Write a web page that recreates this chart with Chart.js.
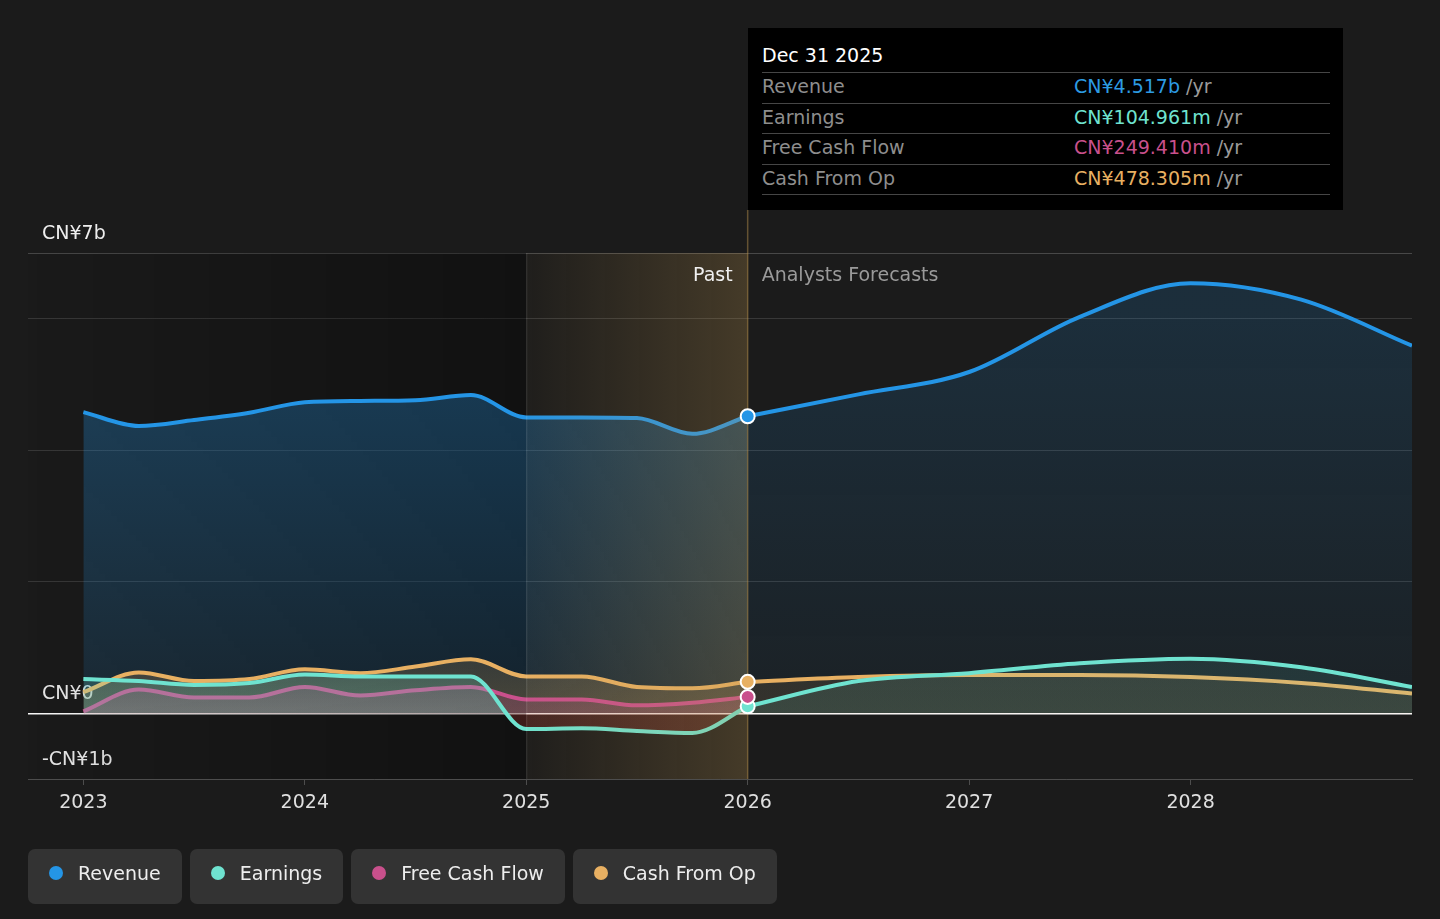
<!DOCTYPE html>
<html>
<head>
<meta charset="utf-8">
<script src="https://cdn.jsdelivr.net/npm/chart.js@4.4.1/dist/chart.umd.min.js"></script>
<style>
  body { margin: 0; background: #1b1b1b; font-family: "DejaVu Sans", sans-serif; }
  #wrap { position: relative; width: 1440px; height: 919px; overflow: hidden; }
  #chart { position: absolute; left: 0; top: 0; }
  #tip { position: absolute; left: 748px; top: 28px; width: 595px; height: 182px; background: #000; }
  #tip .title { position: absolute; left: 14px; top: 15px; line-height: 24px; font-size: 19px; color: #fff; }
  #tip .rows { position: absolute; left: 14px; top: 44px; width: 568px; }
  #tip .row { position: relative; height: 29.6px; line-height: 27px; border-top: 1px solid #464646; font-size: 19px; color: #8e8e8e; }
  #tip .row:last-child { border-bottom: 1px solid #464646; }
  #tip .row .val { position: absolute; left: 312px; top: 0; }
  #tip .row .unit { color: #9a9a9a; }
  #legend { position: absolute; left: 28px; top: 849px; display: flex; gap: 8px; }
  .pill { box-sizing: border-box; height: 55px; padding: 0 21px 7px 21px; background: #333; border-radius: 7px; display: flex; align-items: center; font-size: 19px; color: #eee; }
  .dot { width: 14px; height: 14px; border-radius: 50%; margin-right: 15px; }
</style>
</head>
<body>
<div id="wrap">
  <canvas id="chart" width="1440" height="919"></canvas>
  <div id="tip">
    <div class="title">Dec 31 2025</div>
    <div class="rows">
      <div class="row">Revenue<span class="val"><span style="color:#2d9be3">CN¥4.517b</span> <span class="unit">/yr</span></span></div>
      <div class="row">Earnings<span class="val"><span style="color:#6fe3d0">CN¥104.961m</span> <span class="unit">/yr</span></span></div>
      <div class="row">Free Cash Flow<span class="val"><span style="color:#c9508c">CN¥249.410m</span> <span class="unit">/yr</span></span></div>
      <div class="row">Cash From Op<span class="val"><span style="color:#e8b062">CN¥478.305m</span> <span class="unit">/yr</span></span></div>
    </div>
  </div>
  <div id="legend"></div>
</div>
<script>
// values in CN¥ billions
const pastDates = [2023, 2023.25, 2023.5, 2023.75, 2024, 2024.25, 2024.5, 2024.75, 2025, 2025.25, 2025.5, 2025.75, 2026];
const revenuePast = [4.58, 4.37, 4.46, 4.57, 4.73, 4.75, 4.76, 4.84, 4.50, 4.50, 4.49, 4.25, 4.517];
const earningsPast = [0.52, 0.49, 0.43, 0.46, 0.59, 0.56, 0.56, 0.56, -0.24, -0.23, -0.27, -0.30, 0.105];
const fcfPast = [0.03, 0.36, 0.24, 0.24, 0.40, 0.27, 0.35, 0.40, 0.21, 0.21, 0.12, 0.16, 0.249];
const cfoPast = [0.32, 0.62, 0.49, 0.52, 0.67, 0.61, 0.71, 0.82, 0.56, 0.56, 0.40, 0.38, 0.478];

const forecastDates = [2026, 2026.5, 2027, 2027.5, 2028, 2028.5, 2029];
const revenueForecast = [4.517, 4.85, 5.19, 6.03, 6.54, 6.29, 5.59];
const earningsForecast = [0.105, 0.49, 0.61, 0.76, 0.83, 0.70, 0.40];
const cfoForecast = [0.478, 0.55, 0.58, 0.58, 0.55, 0.46, 0.30];

const yearTicks = [2023, 2024, 2025, 2026, 2027, 2028];
const valueTicks = [-1, 0, 2, 4, 6, 7];
const valueTickLabels = { 7: 'CN¥7b', 0: 'CN¥0', '-1': '-CN¥1b' };

const highlightStart = 2025;
const pastEnd = pastDates[pastDates.length - 1];

const colors = {
  revenue: '#2495e6',
  earnings: '#6fe3d0',
  fcf: '#c9508c',
  cfo: '#e8b062'
};
const rgb = {
  revenue: '36,149,230',
  earnings: '111,227,208',
  fcf: '201,80,140',
  cfo: '232,176,98',
  negative: '220,70,60'
};

function pts(xs, ys) {
  return xs.map((x, i) => ({ x: x, y: ys[i] }));
}

// vertical gradient between two y values
function vFill(c, v0, a0, v1, a1) {
  return function (ctx) {
    const chart = ctx.chart;
    if (!chart.chartArea) return 'transparent';
    const y = chart.scales.y;
    const g = chart.ctx.createLinearGradient(0, y.getPixelForValue(v0), 0, y.getPixelForValue(v1));
    g.addColorStop(0, 'rgba(' + c + ',' + a0 + ')');
    g.addColorStop(1, 'rgba(' + c + ',' + a1 + ')');
    return g;
  };
}

function line(data, color, fill) {
  return {
    data: data,
    borderColor: color,
    borderWidth: 4,
    pointRadius: 0,
    cubicInterpolationMode: 'monotone',
    fill: fill
  };
}

const markerSeries = [
  { v: earningsPast, c: colors.earnings },
  { v: fcfPast, c: colors.fcf },
  { v: cfoPast, c: colors.cfo },
  { v: revenuePast, c: colors.revenue }
];

const periodBands = {
  id: 'periodBands',
  beforeDatasetsDraw(chart) {
    const { ctx, chartArea: a, scales: { x } } = chart;
    const xh = x.getPixelForValue(highlightStart);
    ctx.save();
    const g = ctx.createLinearGradient(a.left, 0, xh, 0);
    g.addColorStop(0, 'rgba(0,0,0,0.03)');
    g.addColorStop(1, 'rgba(0,0,0,0.35)');
    ctx.fillStyle = g;
    ctx.fillRect(a.left, a.top, xh - a.left, a.bottom - a.top);
    ctx.restore();
  },
  afterDatasetDraw(chart, args) {
    if (args.index !== 1) return;
    const { ctx, chartArea: a, scales: { x } } = chart;
    const xh = x.getPixelForValue(highlightStart);
    const xe = x.getPixelForValue(pastEnd);
    ctx.save();
    const g = ctx.createLinearGradient(xh, 0, xe, 0);
    g.addColorStop(0, 'rgba(190,150,80,0.03)');
    g.addColorStop(1, 'rgba(190,150,80,0.26)');
    ctx.fillStyle = g;
    ctx.fillRect(xh, a.top, xe - xh, a.bottom - a.top);
    ctx.lineWidth = 1;
    ctx.strokeStyle = 'rgba(255,255,255,0.12)';
    ctx.beginPath();
    ctx.moveTo(xh + 0.5, a.top);
    ctx.lineTo(xh + 0.5, a.bottom);
    ctx.stroke();
    ctx.lineWidth = 1.5;
    ctx.strokeStyle = 'rgba(190,150,80,0.45)';
    ctx.beginPath();
    ctx.moveTo(xe, 210);
    ctx.lineTo(xe, a.bottom);
    ctx.stroke();
    ctx.restore();
  },
  afterDraw(chart) {
    const { ctx, chartArea: a, scales: { x } } = chart;
    const xe = x.getPixelForValue(pastEnd);
    ctx.save();
    ctx.font = '19px "DejaVu Sans"';
    ctx.textBaseline = 'middle';
    ctx.textAlign = 'right';
    ctx.fillStyle = '#f0f0f0';
    ctx.fillText('Past', xe - 15, a.top + 23);
    ctx.textAlign = 'left';
    ctx.fillStyle = '#9a9a9a';
    ctx.fillText('Analysts Forecasts', xe + 14, a.top + 23);
    ctx.restore();
  }
};

Chart.defaults.font.family = '"DejaVu Sans", sans-serif';
Chart.defaults.font.size = 19;

const datasets = [
  {
    type: 'scatter',
    data: markerSeries.map(s => ({ x: pastEnd, y: s.v[s.v.length - 1] })),
    pointRadius: 7,
    pointBorderWidth: 2,
    pointBorderColor: '#ffffff',
    pointBackgroundColor: markerSeries.map(s => s.c),
    showLine: false
  },
  line(pts(pastDates, earningsPast), colors.earnings,
    { target: 'origin', above: vFill(rgb.earnings, 1, 0.14, 0, 0.26), below: vFill(rgb.negative, 0, 0.22, -0.5, 0.22) }),
  line(pts(forecastDates, earningsForecast), colors.earnings,
    { target: 'origin', above: vFill(rgb.earnings, 1, 0.10, 0, 0.12), below: vFill(rgb.negative, 0, 0.22, -0.5, 0.22) }),
  Object.assign(line(pts(pastDates, fcfPast), colors.fcf, 'origin'), { backgroundColor: vFill(rgb.fcf, 1, 0.14, 0, 0.26) }),
  Object.assign(line(pts(pastDates, cfoPast), colors.cfo, 'origin'), { backgroundColor: vFill(rgb.cfo, 1, 0.14, 0, 0.26) }),
  Object.assign(line(pts(forecastDates, cfoForecast), colors.cfo, 'origin'), { backgroundColor: vFill(rgb.cfo, 1, 0.10, 0, 0.12) }),
  Object.assign(line(pts(pastDates, revenuePast), colors.revenue, 'origin'), { backgroundColor: vFill(rgb.revenue, 5, 0.30, 0, 0.12) }),
  Object.assign(line(pts(forecastDates, revenueForecast), colors.revenue, 'origin'), { backgroundColor: vFill(rgb.revenue, 6, 0.16, 0, 0.05) })
];

new Chart(document.getElementById('chart'), {
  type: 'line',
  data: { datasets: datasets },
  plugins: [periodBands],
  options: {
    responsive: false,
    animation: false,
    events: [],
    layout: { padding: { left: 28, right: 28, top: 253, bottom: 100 } },
    plugins: { legend: { display: false }, tooltip: { enabled: false } },
    scales: {
      x: {
        type: 'linear',
        min: 2022.75,
        max: 2029,
        afterBuildTicks: s => { s.ticks = yearTicks.map(v => ({ value: v })); },
        afterFit: s => { s.height = 40; },
        ticks: { color: '#e0e0e0', padding: 7, maxRotation: 0, autoSkip: false, callback: v => String(v) },
        grid: { drawOnChartArea: false, drawTicks: true, tickLength: 6, color: '#4d4d4d' },
        border: { color: '#4d4d4d' }
      },
      y: {
        min: -1,
        max: 7,
        afterBuildTicks: s => { s.ticks = valueTicks.map(v => ({ value: v })); },
        afterFit: s => { s.width = 0; },
        ticks: {
          mirror: true,
          padding: 14,
          labelOffset: -19,
          color: '#eeeeee',
          callback: v => valueTickLabels[v] || ''
        },
        grid: {
          drawTicks: false,
          color: c => c.tick.value === 0 ? '#ffffff' : (c.tick.value === 7 ? 'rgba(255,255,255,0.2)' : 'rgba(255,255,255,0.13)'),
          lineWidth: c => c.tick.value === 0 ? 1.5 : 1
        },
        border: { display: false }
      }
    }
  }
});

const legendItems = [
  ['Revenue', colors.revenue],
  ['Earnings', colors.earnings],
  ['Free Cash Flow', colors.fcf],
  ['Cash From Op', colors.cfo]
];
const legend = document.getElementById('legend');
legendItems.forEach(([name, c]) => {
  const p = document.createElement('div');
  p.className = 'pill';
  const d = document.createElement('span');
  d.className = 'dot';
  d.style.background = c;
  p.appendChild(d);
  p.appendChild(document.createTextNode(name));
  legend.appendChild(p);
});
</script>
</body>
</html>
